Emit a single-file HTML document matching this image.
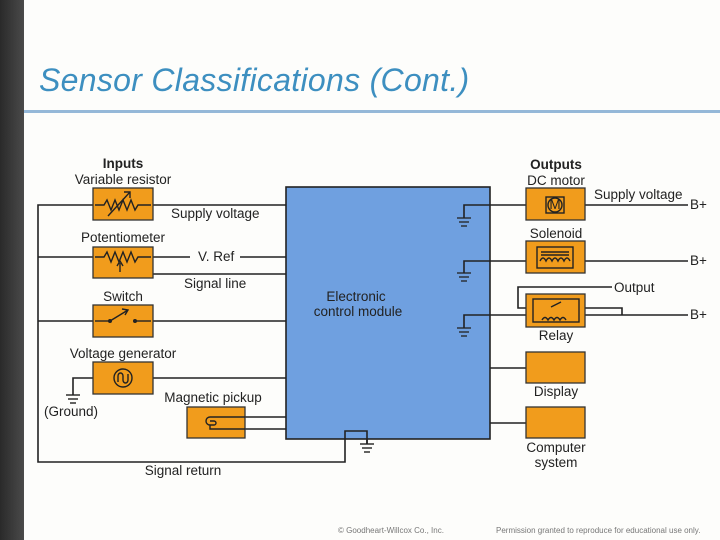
<!DOCTYPE html>
<html><head><meta charset="utf-8"><style>
html,body{margin:0;padding:0}
body{width:720px;height:540px;position:relative;background:#fdfdfb;overflow:hidden;font-family:"Liberation Sans",sans-serif}
#strip{position:absolute;left:0;top:0;width:24px;height:540px;background:linear-gradient(90deg,#2a2a2a,#4a4a4a)}
#title{position:absolute;left:39px;top:62px;font-size:32px;font-style:italic;color:#3d8fc0;letter-spacing:0.3px;white-space:nowrap}
#rule{position:absolute;left:24px;top:110px;width:696px;height:3px;background:#95b8d8}
svg{position:absolute;left:0;top:0}
svg text{font-family:"Liberation Sans",sans-serif;font-size:13.5px;fill:#222}
.f{position:absolute;top:526px;font-size:8px;color:#777}
</style></head><body>
<div id="strip"></div>
<div id="title">Sensor Classifications (Cont.)</div>
<div id="rule"></div>
<svg width="720" height="540" viewBox="0 0 720 540">
<g stroke="#222" stroke-width="1.6" fill="none">
<polyline points="93,205 38,205 38,462 345,462 345,431 367,431 367,444"/>
<line x1="38" y1="257" x2="93" y2="257"/>
<line x1="38" y1="321" x2="93" y2="321"/>
<line x1="153" y1="205" x2="286" y2="205"/>
<line x1="153" y1="257" x2="190" y2="257"/><line x1="240" y1="257" x2="286" y2="257"/>
<polyline points="120,270 120,274 286,274"/>
<line x1="153" y1="321" x2="286" y2="321"/>
<line x1="153" y1="378" x2="286" y2="378"/>
<polyline points="93,378 73,378 73,395"/>
<line x1="245" y1="417" x2="286" y2="417"/><line x1="245" y1="429" x2="286" y2="429"/>
</g>
<rect x="286" y="187" width="204" height="252" fill="#6fa0e0" stroke="#222" stroke-width="1.6"/>
<polyline points="345,439 345,431 367,431 367,444" fill="none" stroke="#222" stroke-width="1.6"/>
<g stroke="#222" stroke-width="1.4">
<line x1="360" y1="444" x2="374" y2="444"/><line x1="362" y1="448" x2="372" y2="448"/><line x1="364" y1="452" x2="370" y2="452"/>
<line x1="66" y1="395" x2="80" y2="395"/><line x1="68" y1="399" x2="78" y2="399"/><line x1="70" y1="403" x2="76" y2="403"/>
</g>
<text x="356" y="301" text-anchor="middle">Electronic</text>
<text x="358" y="316" text-anchor="middle">control module</text>
<g stroke="#222" stroke-width="1.6" fill="none">
<polyline points="464,218 464,205 526,205"/><line x1="585" y1="205" x2="688" y2="205"/>
<polyline points="464,273 464,261 688,261"/>
<polyline points="464,328 464,315 688,315"/>
<polyline points="612,287 518,287 518,308 622,308 622,315"/>
<line x1="490" y1="368" x2="526" y2="368"/>
<line x1="490" y1="423" x2="526" y2="423"/>
</g>
<g stroke="#222" stroke-width="1.3">
<line x1="457" y1="218" x2="471" y2="218"/><line x1="459" y1="222" x2="469" y2="222"/><line x1="461" y1="226" x2="467" y2="226"/>
<line x1="457" y1="273" x2="471" y2="273"/><line x1="459" y1="277" x2="469" y2="277"/><line x1="461" y1="281" x2="467" y2="281"/>
<line x1="457" y1="328" x2="471" y2="328"/><line x1="459" y1="332" x2="469" y2="332"/><line x1="461" y1="336" x2="467" y2="336"/>
</g>
<g fill="#f19c1c" stroke="#333" stroke-width="1.3">
<rect x="93" y="188" width="60" height="32"/>
<rect x="93" y="247" width="60" height="31"/>
<rect x="93" y="305" width="60" height="32"/>
<rect x="93" y="362" width="60" height="32"/>
<rect x="187" y="407" width="58" height="31"/>
<rect x="526" y="188" width="59" height="32"/>
<rect x="526" y="241" width="59" height="32"/>
<rect x="526" y="294" width="59" height="33"/>
<rect x="526" y="352" width="59" height="31"/>
<rect x="526" y="407" width="59" height="31"/>
</g>
<g stroke="#222" stroke-width="1.4" fill="none">
<polyline points="95,205 104,205 107,200 111,210 115,200 119,210 123,200 127,210 131,200 135,210 138,205 151,205"/>
<line x1="108" y1="216" x2="130" y2="192"/><polyline points="124,192 130,192 130,198"/>
<polyline points="95,257 104,257 107,252 111,262 115,252 119,262 123,252 127,262 131,252 135,262 138,257 151,257"/>
<line x1="120" y1="272" x2="120" y2="263"/><polyline points="117,266 120,261 123,266"/>
<line x1="95" y1="321" x2="110" y2="321"/><line x1="110" y1="321" x2="128" y2="310"/><polyline points="122,309 128,310 125,315"/><line x1="135" y1="321" x2="151" y2="321"/>
<circle cx="123" cy="378" r="9"/><path d="M118,382 v-6 a2.5,3 0 0 1 5,0 v4 a2.5,3 0 0 0 5,0 v-6"/>
<path d="M245,417 h-35 a4,4 0 0 0 0,8 h4 a2,2 0 0 0 0,-4 h-4 M210,425 v4 h35"/>
<rect x="546" y="197" width="18" height="16"/><circle cx="555" cy="205" r="7" fill="#f19c1c"/>
<rect x="537" y="247" width="36" height="21"/><path d="M540,261 q3,-6 6,0 q3,-6 6,0 q3,-6 6,0 q3,-6 6,0 q3,-6 6,0"/><line x1="541" y1="252" x2="569" y2="252"/><line x1="541" y1="255" x2="569" y2="255"/>
<rect x="533" y="299" width="46" height="23"/><path d="M542,320 q3,-5 6,0 q3,-5 6,0 q3,-5 6,0 q3,-5 6,0"/><line x1="551" y1="307" x2="561" y2="302"/>
</g>
<g fill="#222"><circle cx="110" cy="321" r="2"/><circle cx="135" cy="321" r="2"/></g>
<text x="555" y="209" text-anchor="middle" font-size="11">M</text>
<text x="123" y="168" text-anchor="middle" font-weight="bold">Inputs</text>
<text x="123" y="184" text-anchor="middle">Variable resistor</text>
<text x="171" y="218">Supply voltage</text>
<text x="123" y="242" text-anchor="middle">Potentiometer</text>
<text x="198" y="261">V. Ref</text>
<text x="184" y="288">Signal line</text>
<text x="123" y="301" text-anchor="middle">Switch</text>
<text x="123" y="358" text-anchor="middle">Voltage generator</text>
<text x="44" y="416">(Ground)</text>
<text x="213" y="402" text-anchor="middle">Magnetic pickup</text>
<text x="183" y="475" text-anchor="middle">Signal return</text>
<text x="556" y="169" text-anchor="middle" font-weight="bold">Outputs</text>
<text x="556" y="185" text-anchor="middle">DC motor</text>
<text x="594" y="199">Supply voltage</text>
<text x="556" y="238" text-anchor="middle">Solenoid</text>
<text x="614" y="292">Output</text>
<text x="556" y="340" text-anchor="middle">Relay</text>
<text x="556" y="396" text-anchor="middle">Display</text>
<text x="556" y="452" text-anchor="middle">Computer</text>
<text x="556" y="467" text-anchor="middle">system</text>
<text x="690" y="209">B+</text>
<text x="690" y="265">B+</text>
<text x="690" y="319">B+</text>
</svg>
<div class="f" style="left:338px">© Goodheart-Willcox Co., Inc.</div>
<div class="f" style="left:496px">Permission granted to reproduce for educational use only.</div>
</body></html>
